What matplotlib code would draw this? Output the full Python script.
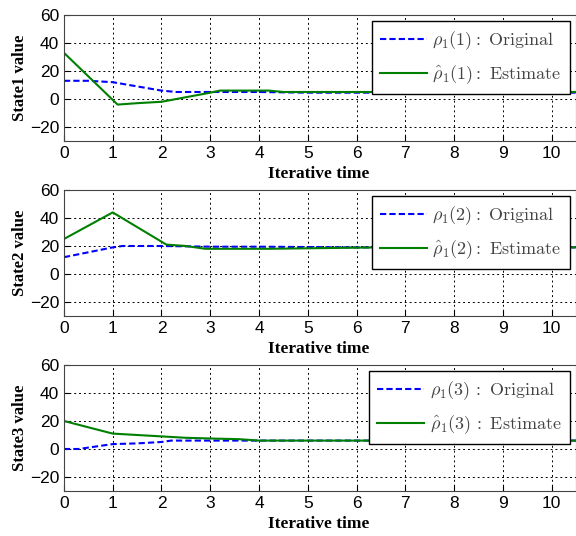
import numpy as np
import matplotlib.pyplot as plt

plt.rcParams['mathtext.fontset'] = 'cm'

# state 1
t1_orig = [0, 0.5, 1.0, 1.5, 2.0, 2.3, 3.0, 4.0, 5.0, 6.0, 8.0, 10.5]
s1_orig = [13, 13, 12, 9, 6, 5, 5, 5, 4.5, 4.5, 4.5, 4.5]
t1_est = [0, 1.1, 1.5, 2.0, 3.0, 3.2, 4.2, 4.5, 6.0, 8.0, 10.5]
s1_est = [33, -4, -3, -2, 4.5, 6, 6, 5, 5, 5, 5]

# state 2
t2_orig = [0, 1.0, 1.2, 2.0, 3.0, 4.0, 6.0, 8.0, 10.5]
s2_orig = [12, 19, 20, 20, 19.5, 19.5, 19, 19, 19]
t2_est = [0, 1.0, 2.1, 2.5, 2.9, 4.2, 5.3, 6.5, 8.0, 10.5]
s2_est = [25, 44, 21, 20, 18, 18, 18.5, 19, 19, 19]

# state 3
t3_orig = [0, 0.3, 1.0, 1.5, 2.0, 2.2, 3.0, 5.0, 8.0, 10.5]
s3_orig = [0, 0, 3.5, 4, 5, 6, 6, 6, 6, 6]
t3_est = [0, 1.0, 1.5, 2.0, 2.5, 3.0, 3.6, 4.0, 6.0, 8.0, 10.5]
s3_est = [20, 11, 10, 9, 8, 7.5, 7, 6, 6, 6, 6]

panels = [
    (t1_orig, s1_orig, t1_est, s1_est, 'State1 value', '1', r':\ '),
    (t2_orig, s2_orig, t2_est, s2_est, 'State2 value', '2', r':\ '),
    (t3_orig, s3_orig, t3_est, s3_est, 'State3 value', '3', r'\,:\ '),
]

fig = plt.figure(figsize=(5.76, 5.36), dpi=100)
tops = [0.972, 0.6455, 0.319]
h = 0.235

for k, (to, so, te, se, ylab, idx, sep) in enumerate(panels):
    ax = fig.add_axes([0.111, tops[k] - h, 0.889, h])
    ax.plot(to, so, color='blue', linestyle=(0, (3, 1.5)), linewidth=1.5,
            label=r'$\rho_1(' + idx + r')\mathrm{' + sep + r'Original}$')
    ax.plot(te, se, color='green', linestyle='-', linewidth=1.5,
            label=r'$\hat{\rho}_1(' + idx + r')\mathrm{' + sep + r'Estimate}$')
    ax.set_xlim(0, 10.5)
    ax.set_ylim(-30, 60)
    ax.set_xticks(range(0, 11))
    ax.set_yticks([-20, 0, 20, 40, 60])
    ax.grid(True, color='black', linestyle=(0, (2, 3)), linewidth=0.7)
    ax.tick_params(direction='in', labelsize=12.5, length=4)
    for lab in ax.get_xticklabels() + ax.get_yticklabels():
        lab.set_family('Liberation Sans')
    for sp in ax.spines.values():
        sp.set_color('#444444')
    ax.set_xlabel('Iterative time', family='Liberation Serif', fontweight='bold',
                  fontsize=12.5)
    ax.xaxis.set_label_coords(0.498, -0.20)
    ax.set_ylabel(ylab, family='Liberation Serif', fontweight='bold', fontsize=12,
                  labelpad=1)
    leg = ax.legend(loc='upper right', prop={'size': 13},
                    fancybox=False, framealpha=1, edgecolor='black',
                    handlelength=2.6, handletextpad=0.3, borderaxespad=0.35,
                    labelspacing=0.6, borderpad=0.45)
    for txt in leg.get_texts():
        txt.set_color('#444444')

fig.savefig('out.png', dpi=100)
